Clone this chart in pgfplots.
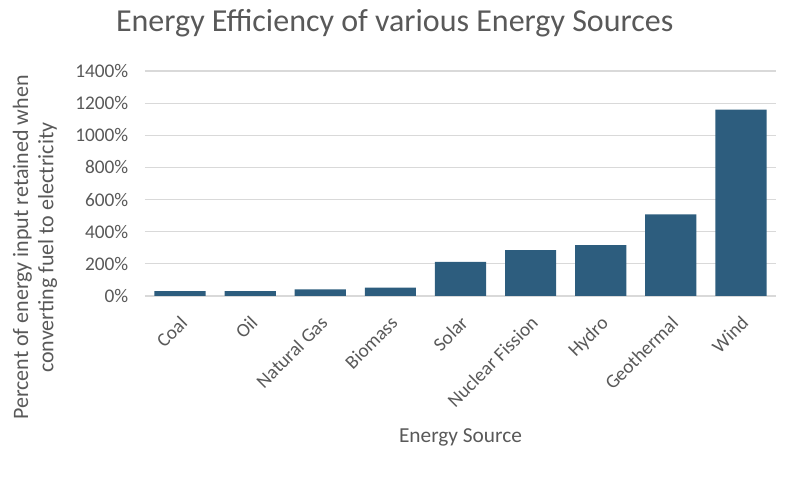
\documentclass[border=0pt]{standalone}
\usepackage{pgfplots}
\pgfplotsset{compat=1.18}
\usepackage{fontspec}
\setmainfont{Carlito}
\definecolor{barblue}{HTML}{2D5D7E}
\definecolor{txtgray}{HTML}{595959}
\definecolor{gridgray}{HTML}{D9D9D9}
\begin{document}
\begin{tikzpicture}[x=1pt,y=1pt]
\path[use as bounding box] (0,0) rectangle (595.5,366);
\begin{axis}[
  at={(108.75pt,144pt)}, anchor=south west,
  scale only axis,
  width=473.25pt, height=168.75pt,
  ybar, bar width=38.4pt,
  xmin=-0.5, xmax=8.5,
  ymin=0, ymax=1400,
  xtick=data,
  xticklabels={Coal,Oil,Natural Gas,Biomass,Solar,Nuclear Fission,Hydro,Geothermal,Wind},
  ytick={0,200,...,1400},
  yticklabel={\pgfmathprintnumber{\tick}\%},
  /pgf/number format/assume math mode=true,
  /pgf/number format/1000 sep={},
  ymajorgrids, grid style={gridgray, line width=0.9pt},
  axis line style={draw=none},
  axis x line*=bottom,
  x axis line style={draw=gridgray, line width=0.9pt},
  axis y line*=left,
  y axis line style={draw=none},
  major tick length=0pt,
  tick label style={text=txtgray, font=\fontsize{14.5}{16}\selectfont},
  yticklabel style={xshift=-9pt},
  xticklabel style={rotate=45, anchor=north east, xshift=-7pt, yshift=-6pt},
  title={Energy Efficiency of various Energy Sources},
  title style={at={(axis description cs:0.3957,1.178)}, anchor=center, text=txtgray, font=\fontsize{24}{27}\selectfont},
  xlabel={Energy Source},
  xlabel style={at={(axis description cs:0.5,-0.627)}, anchor=center, text=txtgray, font=\fontsize{16}{18}\selectfont},
  ylabel={Percent of energy input retained when\\converting fuel to electricity},
  ylabel style={at={(axis description cs:-0.1743,0.215)}, anchor=center, align=center, text=txtgray, font=\fontsize{16.5}{19}\selectfont},
  clip=false,
]
\addplot[fill=barblue, draw=none] coordinates {
  (0,31) (1,31) (2,41) (3,52) (4,212) (5,286) (6,317) (7,508) (8,1160)
};
\end{axis}
\end{tikzpicture}
\end{document}
